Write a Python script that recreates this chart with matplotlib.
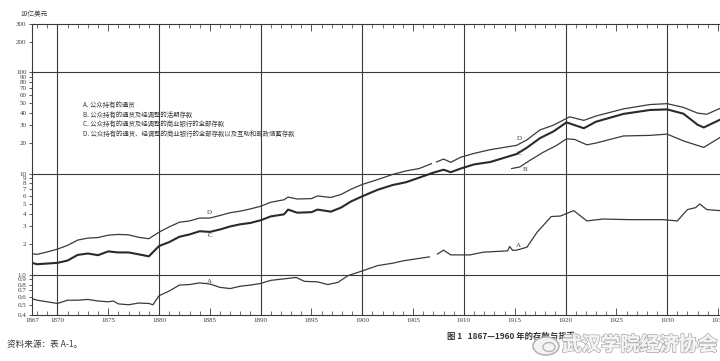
import numpy as np
import matplotlib
matplotlib.use("Agg")
import matplotlib.pyplot as plt
import matplotlib.patheffects as pe
from matplotlib.patches import Ellipse

nan = np.nan

# ---------------- data (billions of dollars, log scale) ----------------
a_years = [1867, 1868, 1869, 1870, 1871, 1872, 1873, 1874, 1875, 1875.5, 1876, 1877,
           1878, 1879, 1879.4, 1880, 1881, 1882, 1883, 1884, 1885, 1886, 1887, 1888,
           1889, 1890, 1891, 1892.3, 1893.5, 1894.3, 1895.6, 1896.6, 1897.6, 1898.6,
           1900, 1901.5, 1903, 1904, 1905.6, 1906.6, 1907.0, 1907.4, 1908, 1908.7,
           1910.6, 1911.9, 1914.3, 1914.5, 1914.8, 1915.2, 1916.2, 1917.2, 1918.6,
           1919.5, 1920.8, 1922.1, 1923.7, 1926.3, 1929.6, 1931, 1932, 1932.8, 1933.2,
           1933.9, 1935.2]
a_vals = [0.60, 0.56, 0.54, 0.52, 0.56, 0.56, 0.57, 0.55, 0.54, 0.55, 0.515, 0.505,
          0.525, 0.52, 0.505, 0.62, 0.69, 0.79, 0.80, 0.83, 0.81, 0.75, 0.73, 0.77,
          0.79, 0.82, 0.88, 0.91, 0.94, 0.86, 0.85, 0.80, 0.84, 0.98,
          1.09, 1.23, 1.30, 1.37, 1.45, 1.50, nan, 1.60, 1.75, 1.57,
          1.57, 1.67, 1.72, 1.90, 1.74, 1.75, 1.87, 2.63, 3.76,
          3.80, 4.30, 3.40, 3.55, 3.50, 3.50, 3.40, 4.40, 4.60, 5.00,
          4.40, 4.30]

b_years = [1914.7, 1915.5, 1916.5, 1917.8, 1919.1, 1920.1, 1920.9, 1922.1, 1923,
           1925.7, 1928.3, 1930, 1931.6, 1933.6, 1935.2]
b_vals = [11.2, 11.6, 13.5, 16.2, 18.9, 22.0, 21.7, 19.2, 20.0,
          23.5, 23.8, 24.5, 21.0, 18.1, 22.7]

c_years = [1867, 1868, 1869, 1870, 1871, 1872, 1873, 1874, 1875, 1876, 1877, 1878,
           1879, 1880, 1881, 1882, 1883, 1884, 1885, 1886, 1887, 1888, 1889, 1890,
           1891, 1892.3, 1892.7, 1893.6, 1895, 1895.6, 1896.9, 1897.9, 1898.9, 1900,
           1901.5, 1903, 1904.3, 1905.6, 1907, 1908, 1908.7, 1909.7, 1911, 1912.6,
           1915.2, 1916.2, 1917.5, 1918.8, 1920.1, 1921.8, 1923, 1925.7, 1928.3, 1930,
           1931.6, 1933, 1933.6, 1935.2]
c_vals = [1.35, 1.27, 1.29, 1.31, 1.38, 1.57, 1.62, 1.56, 1.70, 1.66, 1.66, 1.59,
          1.52, 1.92, 2.10, 2.37, 2.50, 2.69, 2.65, 2.80, 3.00, 3.15, 3.25, 3.45,
          3.77, 3.95, 4.40, 4.10, 4.15, 4.40, 4.20, 4.60, 5.30, 5.95,
          6.90, 7.70, 8.20, 9.10, 10.2, 10.9, 10.3, 11.2, 12.3, 13.0,
          15.6, 18.0, 22.4, 26.0, 32.0, 28.0, 32.5, 38.8, 42.4, 43.0,
          39.0, 30.3, 28.5, 34.0]

d_years = [1867, 1868, 1869, 1870, 1871, 1872, 1873, 1874, 1875, 1876, 1877, 1878,
           1879, 1880, 1881, 1882, 1883, 1884, 1885, 1886, 1887, 1888, 1889, 1890,
           1891, 1892.3, 1892.7, 1893.6, 1895, 1895.6, 1896.9, 1897.9, 1898.9, 1900,
           1901.5, 1903, 1904.3, 1905.6, 1906.8, 1907.0, 1907.3, 1908, 1908.7, 1909.7,
           1911, 1912.6, 1915.2, 1916.2, 1917.5, 1918.8, 1920.4, 1921.8, 1923, 1925.7,
           1928.3, 1930, 1931.6, 1933, 1933.9, 1935.2]
d_vals = [1.63, 1.59, 1.68, 1.79, 1.95, 2.20, 2.30, 2.33, 2.46, 2.50, 2.48, 2.34,
          2.27, 2.63, 2.97, 3.30, 3.40, 3.63, 3.63, 3.85, 4.10, 4.25, 4.47, 4.75,
          5.20, 5.50, 5.85, 5.60, 5.65, 6.00, 5.80, 6.20, 7.00, 7.80,
          8.70, 9.80, 10.6, 11.2, 12.5, nan, 13.0, 13.9, 12.9, 14.5,
          15.8, 17.2, 19.0, 21.5, 27.0, 30.0, 36.3, 33.5, 37.0, 43.5,
          48.0, 49.0, 45.0, 39.5, 38.5, 44.0]

# curve letters: (letter, year, value)
letters = [("D", 1885.0, 4.1), ("C", 1885.0, 2.45), ("A", 1885.0, 0.85),
           ("D", 1915.5, 22.4), ("C", 1915.4, 15.6), ("B", 1916.0, 10.9),
           ("A", 1915.4, 1.96)]

legend_lines = [
    "A. 公众持有的通货",
    "B. 公众持有的通货及经调整的活期存款",
    "C. 公众持有的通货及经调整的商业银行的全部存款",
    "D. 公众持有的通货、经调整的商业银行的全部存款以及互助和邮政储蓄存款",
]

ytick_vals = [300, 200, 100, 90, 80, 70, 60, 50, 40, 30, 20, 10, 9, 8, 7, 6, 5, 4,
              3, 2, 1.0, 0.9, 0.8, 0.7, 0.6, 0.5, 0.4]
ytick_labels = ["300", "200", "100", "90", "80", "70", "60", "50", "40", "30", "20",
                "10", "9", "8", "7", "6", "5", "4", "3", "2", "1.0", "0.9", "0.8",
                "0.7", "0.6", "0.5", "0.4"]
xtick_years = [1867, 1870, 1875, 1880, 1885, 1890, 1895, 1900, 1905, 1910, 1915,
               1920, 1925, 1930, 1935]
grid_years = [1870, 1880, 1890, 1900, 1910, 1920, 1930]
grid_vals = [100, 10, 1]

# ---------------- figure ----------------
ink = "#3a3a3a"
serif = ["Liberation Serif", "DejaVu Serif"]
cjk = ["Noto Sans CJK SC", "DejaVu Sans"]

fig = plt.figure(figsize=(7.2, 3.61), dpi=100)
fig.patch.set_facecolor("white")
ax = fig.add_axes([32 / 720, 1 - 315 / 361, 1 - 32 / 720, (315 - 24) / 361])
ax.set_facecolor("white")
ax.set_yscale("log")
x0, x1 = 1867.5, 1935.2
ax.set_xlim(x0, x1)
ax.set_ylim(0.4, 300)

for g in grid_vals:
    ax.axhline(g, color=ink, lw=0.8, zorder=1)
for g in grid_years:
    ax.axvline(g, color=ink, lw=0.8, zorder=1)

ax.plot(a_years, a_vals, color=ink, lw=0.9, zorder=3)
ax.plot(b_years, b_vals, color=ink, lw=0.9, zorder=3)
ax.plot(c_years, c_vals, color="#2a2a2a", lw=1.5, zorder=3)
ax.plot(d_years, d_vals, color=ink, lw=0.9, zorder=3)

for t, xx, yy in letters:
    ax.text(xx, yy, t, fontsize=5, family=serif, color=ink, ha="center",
            va="center", zorder=4)

# axes styling
ax.spines["right"].set_visible(False)
for s in ["left", "top", "bottom"]:
    ax.spines[s].set_color(ink)
    ax.spines[s].set_linewidth(0.8)

ax.yaxis.set_minor_locator(matplotlib.ticker.NullLocator())
ax.set_yticks(ytick_vals)
ax.set_yticklabels(ytick_labels, family=serif, fontsize=5, color=ink)
ax.tick_params(axis="y", direction="out", length=2.5, width=0.6, color=ink, pad=1.5)

xt = [x0 if y == 1867 else y for y in xtick_years]
ax.set_xticks(xt)
ax.set_xticklabels([str(y) for y in xtick_years], family=serif, fontsize=5,
                   color=ink)
ax.set_xticks(np.arange(1868, 1936, 1), minor=True)
ax.tick_params(axis="x", which="major", direction="in", length=5, width=0.6,
               color=ink, pad=2, top=True)
ax.tick_params(axis="x", which="minor", direction="in", length=3, width=0.5,
               color=ink, top=True)

# texts
fig.text(20 / 720, 1 - 14 / 361, "10亿美元", family=cjk, fontsize=4.8, color=ink,
         ha="left", va="center")
for i, line in enumerate(legend_lines):
    fig.text(83 / 720, 1 - (105.5 + i * 9.4) / 361, line, family=cjk,
             fontsize=4.6, color=ink, ha="left", va="center")
fig.text(447 / 720, 1 - 336 / 361, "图 1   1867—1960 年的存款与货币", family=cjk,
         fontsize=6, color="#333333", ha="left", va="center", weight="bold")
fig.text(7 / 720, 1 - 344 / 361, "资料来源：表 A-1。", family=cjk, fontsize=6.2,
         color=ink, ha="left", va="center")

# watermark (logo + text)
logo = Ellipse((546 / 720, 1 - 346 / 361), 26 / 720, 18 / 361,
               transform=fig.transFigure, facecolor="#f4f4f4",
               edgecolor="#b5b5b5", lw=1.2, zorder=10)
fig.add_artist(logo)
logo2 = Ellipse((549 / 720, 1 - 347 / 361), 12 / 720, 9 / 361,
                transform=fig.transFigure, facecolor="none",
                edgecolor="#b5b5b5", lw=1.0, zorder=11)
fig.add_artist(logo2)
wm = fig.text(562 / 720, 1 - 345 / 361, "武汉学院经济协会", family=cjk,
              fontsize=14, color="#f4f4f4", ha="left", va="center", zorder=12,
              weight="bold")
wm.set_path_effects([pe.withStroke(linewidth=1.3, foreground="#b0b0b0"),
                     pe.Normal()])

fig.savefig("out.png", dpi=100, facecolor="white")
